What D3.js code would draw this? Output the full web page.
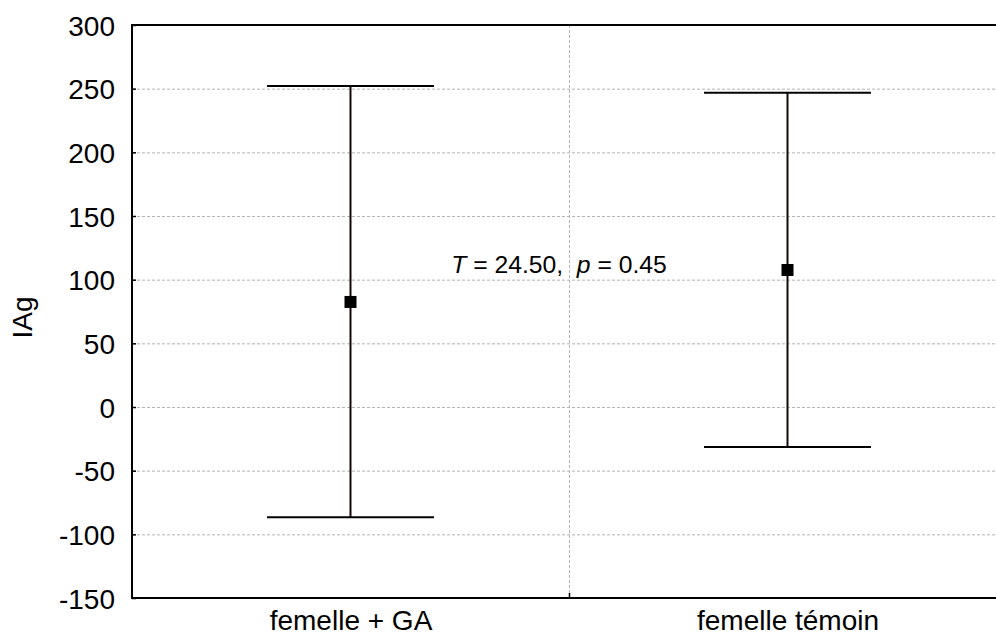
<!DOCTYPE html>
<html><head><meta charset="utf-8">
<script src="https://cdn.jsdelivr.net/npm/d3@7"></script>
<style>body{margin:0;background:#fff}svg{display:block;font-family:Arial,"Liberation Sans",sans-serif}</style>
</head><body><svg id="c" width="996" height="639"></svg>
<script>
const categories = ["femelle + GA", "femelle témoin"];
const means = [82.5, 107.6];
const upper = [252.1, 246.8];
const lower = [-86.6, -31.4];
const yTicks = [-150, -100, -50, 0, 50, 100, 150, 200, 250, 300];
const yLabel = "IAg";

const svg = d3.select("#c");
const L = 132, T = 25, B = 598, R = 1006;
const x = d3.scalePoint().domain(categories).range([L, R]).padding(0.5);
const y = d3.scaleLinear().domain([-150, 300]).range([B, T]);
const step = x.step();

// grid
const g = svg.append("g");
g.selectAll("line.h").data(yTicks.filter(v => v > -150 && v < 300)).join("line")
  .attr("x1", L).attr("x2", R).attr("y1", d => y(d) + 0.5).attr("y2", d => y(d) + 0.5)
  .attr("stroke", "#b4b4b4").attr("stroke-width", 1).attr("stroke-dasharray", "3,2");
const mid = (x(categories[0]) + x(categories[1])) / 2;
g.append("line").attr("x1", mid + 0.5).attr("x2", mid + 0.5).attr("y1", T).attr("y2", B)
  .attr("stroke", "#b4b4b4").attr("stroke-width", 1).attr("stroke-dasharray", "3,2");

// axes
const yAxis = d3.axisLeft(y).tickValues(yTicks).tickSize(-4).tickPadding(17)
  .tickFormat(d => String(d));
const ya = svg.append("g").attr("transform", `translate(${L},0)`).call(yAxis);
ya.select(".domain").remove();
ya.selectAll(".tick line").attr("stroke", "#000").attr("stroke-width", 1.5);
ya.selectAll("text").attr("font-size", 28).attr("fill", "#000").attr("dy", "0.36em")
  .attr("font-family", "Arial, 'Liberation Sans', sans-serif");

const xAxis = d3.axisBottom(x).tickSize(0).tickPadding(12);
const xa = svg.append("g").attr("transform", `translate(0,${B})`).call(xAxis);
xa.select(".domain").remove();
xa.selectAll("text").attr("font-size", 28).attr("fill", "#000").attr("dy", "0.72em")
  .attr("font-family", "Arial, 'Liberation Sans', sans-serif");
svg.append("line").attr("x1", mid + 0.5).attr("x2", mid + 0.5).attr("y1", B).attr("y2", B - 5)
  .attr("stroke", "#000").attr("stroke-width", 1.5);

// frame
svg.append("path").attr("d", `M${R},${T}H${L}V${B}H${R}`).attr("fill", "none")
  .attr("stroke", "#000").attr("stroke-width", 2);

// error bars
const half = step * 0.191;
const eb = svg.append("g");
categories.forEach((c, i) => {
  const cx = x(c);
  eb.append("line").attr("x1", cx).attr("x2", cx).attr("y1", y(upper[i])).attr("y2", y(lower[i]))
    .attr("stroke", "#140808").attr("stroke-width", 2);
  [upper[i], lower[i]].forEach(v => {
    eb.append("line").attr("x1", cx - half).attr("x2", cx + half).attr("y1", y(v)).attr("y2", y(v))
      .attr("stroke", "#000").attr("stroke-width", 2);
  });
  eb.append("rect").attr("x", cx - 6).attr("y", y(means[i]) - 6).attr("width", 12).attr("height", 12)
    .attr("fill", "#000");
});

// annotation
const ann = svg.append("text").attr("x", mid - 10).attr("y", y(105)).attr("text-anchor", "middle")
  .attr("font-size", 24.7).attr("fill", "#000");
ann.append("tspan").attr("font-style", "italic").text("T");
ann.append("tspan").text(" = 24.50,\u00a0\u00a0");
ann.append("tspan").attr("font-style", "italic").text("p");
ann.append("tspan").text(" = 0.45");

// y label
svg.append("text").attr("transform", `translate(32,${(T + B) / 2 + 6}) rotate(-90)`)
  .attr("text-anchor", "middle").attr("font-size", 28).attr("fill", "#000").text(yLabel);
</script></body></html>
